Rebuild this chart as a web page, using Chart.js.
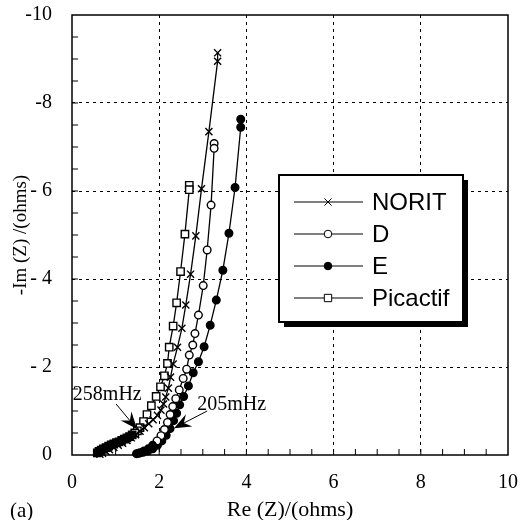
<!DOCTYPE html>
<html>
<head>
<meta charset="utf-8">
<script src="https://cdn.jsdelivr.net/npm/chart.js@4.4.1/dist/chart.umd.min.js"></script>
<style>
  html, body { margin: 0; padding: 0; background: #fff; }
  canvas { display: block; }
</style>
</head>
<body>
<canvas id="nyquistChart" width="520" height="520"></canvas>
<script>
// series (low frequency first)
const seriesLabels = ['NORIT', 'D', 'E', 'Picactif'];

const noritRe = [3.34, 3.34, 3.14, 2.97, 2.84, 2.72, 2.61, 2.52, 2.42, 2.32, 2.26, 2.21, 2.15, 2.10, 2.04, 1.96, 1.86, 1.76, 1.66, 1.56, 1.46, 1.36, 1.26, 1.16, 1.06, 0.96, 0.86, 0.78, 0.70, 0.64];
const noritIm = [9.14, 8.95, 7.35, 6.05, 4.98, 4.11, 3.41, 2.88, 2.45, 2.07, 1.77, 1.52, 1.32, 1.16, 1.02, 0.90, 0.80, 0.71, 0.62, 0.54, 0.46, 0.39, 0.33, 0.27, 0.22, 0.17, 0.12, 0.08, 0.04, 0.02];

const dRe = [3.26, 3.26, 3.19, 3.10, 3.01, 2.90, 2.82, 2.77, 2.69, 2.63, 2.55, 2.46, 2.38, 2.31, 2.25, 2.19, 2.12, 2.04, 1.95, 1.85, 1.75, 1.65, 1.56, 1.48];
const dIm = [7.08, 6.97, 5.68, 4.66, 3.85, 3.18, 2.76, 2.50, 2.27, 1.95, 1.74, 1.48, 1.28, 1.10, 0.92, 0.74, 0.58, 0.44, 0.32, 0.22, 0.14, 0.09, 0.05, 0.03];

const eRe = [3.87, 3.87, 3.74, 3.60, 3.46, 3.31, 3.17, 3.03, 2.90, 2.78, 2.67, 2.56, 2.47, 2.40, 2.33, 2.25, 2.16, 2.06, 1.96, 1.85, 1.74, 1.63, 1.53];
const eIm = [7.63, 7.45, 6.08, 5.04, 4.20, 3.52, 2.95, 2.46, 2.12, 1.87, 1.57, 1.33, 1.14, 0.95, 0.78, 0.60, 0.45, 0.32, 0.22, 0.14, 0.09, 0.06, 0.04];

const picRe = [2.69, 2.69, 2.59, 2.49, 2.40, 2.32, 2.23, 2.19, 2.12, 2.03, 1.93, 1.82, 1.72, 1.64, 1.56, 1.50, 1.44, 1.38, 1.32, 1.26, 1.20, 1.14, 1.08, 1.02, 0.96, 0.90, 0.84, 0.78, 0.72, 0.67, 0.62, 0.58];
const picIm = [6.13, 6.03, 5.02, 4.17, 3.46, 2.93, 2.45, 2.08, 1.80, 1.55, 1.33, 1.12, 0.92, 0.76, 0.62, 0.55, 0.50, 0.46, 0.42, 0.39, 0.36, 0.33, 0.30, 0.28, 0.25, 0.23, 0.20, 0.17, 0.14, 0.11, 0.08, 0.05];

const xTickValues = [0, 2, 4, 6, 8, 10];
const xTickLabels = ['0', '2', '4', '6', '8', '10'];
const yTickValues = [0, 2, 4, 6, 8, 10];
const yTickLabels = ['0', '- 2', '- 4', '- 6', '-8', '-10'];

// frequency notes: text anchor, arrow tail, arrow tip (data units)
const notes = [
    { text: '258mHz', at: [0.02, 1.36], from: [1.01, 1.16], to: [1.49, 0.59] },
    { text: '205mHz', at: [2.87, 1.14], from: [3.10, 1.00], to: [2.34, 0.61] }
];

const serif = 'Liberation Serif, Times New Roman, serif';
const sans = 'Liberation Sans, Arial, sans-serif';

const toPoints = (re, im) => re.map((v, i) => ({ x: v, y: im[i] }));

// open markers crowd into a solid ink blob at the high-frequency end
function series(label, re, im, style, radius, fill, blobBelow) {
    return {
        label,
        data: toPoints(re, im),
        showLine: true,
        borderColor: '#000',
        borderWidth: 1.3,
        pointStyle: style,
        pointRadius: radius,
        pointBorderWidth: 1.4,
        pointBorderColor: '#000',
        pointBackgroundColor: c => (c.raw && c.raw.y < blobBelow) ? '#000' : fill,
        markerFill: fill,
        clip: false
    };
}

function drawArrow(ctx, x1, y1, x2, y2) {
    const ang = Math.atan2(y2 - y1, x2 - x1);
    const len = 17, half = 7, notch = 11;
    const cos = Math.cos(ang), sin = Math.sin(ang);
    const bx = x2 - cos * len, by = y2 - sin * len;
    ctx.beginPath();
    ctx.moveTo(x1, y1);
    ctx.lineTo(x2 - cos * notch, y2 - sin * notch);
    ctx.stroke();
    ctx.beginPath();
    ctx.moveTo(x2, y2);
    ctx.lineTo(bx - sin * half, by + cos * half);
    ctx.lineTo(x2 - cos * notch, y2 - sin * notch);
    ctx.lineTo(bx + sin * half, by - cos * half);
    ctx.closePath();
    ctx.fill();
}

const decorations = {
    id: 'decorations',
    afterDraw(chart) {
        const { ctx, chartArea: a, scales: { x, y } } = chart;
        ctx.save();
        ctx.strokeStyle = '#000';
        ctx.fillStyle = '#000';

        // frame + inward minor ticks
        ctx.lineWidth = 1.5;
        ctx.strokeRect(a.left, a.top, a.right - a.left, a.bottom - a.top);
        ctx.lineWidth = 1;
        ctx.beginPath();
        for (let v = 0.5; v < 10; v += 0.5) {
            const px = x.getPixelForValue(v);
            ctx.moveTo(px, a.bottom);
            ctx.lineTo(px, a.bottom - 6);
            const py = y.getPixelForValue(v);
            ctx.moveTo(a.left, py);
            ctx.lineTo(a.left + 6, py);
        }
        ctx.stroke();

        // notes with arrows
        ctx.font = '20px ' + serif;
        ctx.textBaseline = 'middle';
        ctx.textAlign = 'left';
        notes.forEach(n => {
            ctx.fillText(n.text, x.getPixelForValue(n.at[0]), y.getPixelForValue(n.at[1]));
            drawArrow(ctx,
                x.getPixelForValue(n.from[0]), y.getPixelForValue(n.from[1]),
                x.getPixelForValue(n.to[0]), y.getPixelForValue(n.to[1]));
        });

        // panel tag
        ctx.font = '21px ' + serif;
        ctx.textBaseline = 'alphabetic';
        ctx.fillText('(a)', 10, 517);

        // legend box with drop shadow
        const bx = 279, by = 175, bw = 184, bh = 147, sh = 5;
        ctx.fillRect(bx + sh, by + sh, bw, bh);
        ctx.fillStyle = '#fff';
        ctx.fillRect(bx, by, bw, bh);
        ctx.lineWidth = 2;
        ctx.strokeRect(bx, by, bw, bh);

        ctx.lineWidth = 1;
        ctx.font = '24px ' + sans;
        ctx.textBaseline = 'middle';
        chart.data.datasets.forEach((ds, i) => {
            const ry = by + 27 + i * 32;
            ctx.beginPath();
            ctx.moveTo(bx + 15, ry);
            ctx.lineTo(bx + 84, ry);
            ctx.stroke();
            ctx.fillStyle = ds.markerFill;
            Chart.helpers.drawPoint(ctx, {
                pointStyle: ds.pointStyle,
                radius: ds.pointRadius,
                borderWidth: 1,
                rotation: 0
            }, bx + 49, ry);
            ctx.fillStyle = '#000';
            ctx.fillText(ds.label, bx + 93, ry + 1);
        });
        ctx.restore();
    }
};

const gridColor = c => (c.tick && c.tick.value > 0 && c.tick.value < 10) ? '#000' : 'rgba(0,0,0,0)';

new Chart(document.getElementById('nyquistChart'), {
    type: 'scatter',
    data: {
        datasets: [
            series(seriesLabels[0], noritRe, noritIm, 'crossRot', 5, '#000', 0),
            series(seriesLabels[1], dRe, dIm, 'circle', 3.8, '#fff', 0.3),
            series(seriesLabels[2], eRe, eIm, 'circle', 3.8, '#000', 0),
            series(seriesLabels[3], picRe, picIm, 'rect', 5.2, '#fff', 0.5)
        ]
    },
    options: {
        responsive: false,
        animation: false,
        devicePixelRatio: 1,
        layout: { padding: { top: 15, right: 12, left: 0, bottom: 0 } },
        plugins: {
            legend: { display: false },
            tooltip: { enabled: false }
        },
        scales: {
            x: {
                type: 'linear',
                min: 0,
                max: 10,
                afterFit: s => { s.height = 65; s.paddingLeft = 0; s.paddingRight = 0; },
                afterBuildTicks: s => { s.ticks = xTickValues.map(v => ({ value: v })); },
                ticks: {
                    padding: 16,
                    color: '#000',
                    font: { family: serif, size: 20 },
                    callback: v => xTickLabels[xTickValues.indexOf(v)] ?? ''
                },
                grid: { color: gridColor, lineWidth: 1, drawTicks: false, borderDash: [3, 4] },
                border: { display: false, dash: [3, 4] },
                title: {
                    display: true,
                    text: 'Re (Z)/(ohms)',
                    color: '#000',
                    font: { family: serif, size: 22, lineHeight: 1 },
                    padding: { top: 0, bottom: -1 }
                }
            },
            y: {
                type: 'linear',
                min: 0,
                max: 10,
                afterFit: s => { s.width = 72; s.paddingTop = 0; s.paddingBottom = 0; },
                afterBuildTicks: s => { s.ticks = yTickValues.map(v => ({ value: v })); },
                ticks: {
                    padding: 20,
                    color: '#000',
                    font: { family: serif, size: 20 },
                    callback: v => yTickLabels[yTickValues.indexOf(v)] ?? ''
                },
                grid: { color: gridColor, lineWidth: 1, drawTicks: false, borderDash: [3, 4] },
                border: { display: false, dash: [3, 4] },
                title: {
                    display: true,
                    text: '-Im (Z) /(ohms)',
                    color: '#000',
                    font: { family: serif, size: 19, lineHeight: 1 },
                    padding: { top: 12, bottom: 0 }
                }
            }
        }
    },
    plugins: [decorations]
});
</script>
</body>
</html>
